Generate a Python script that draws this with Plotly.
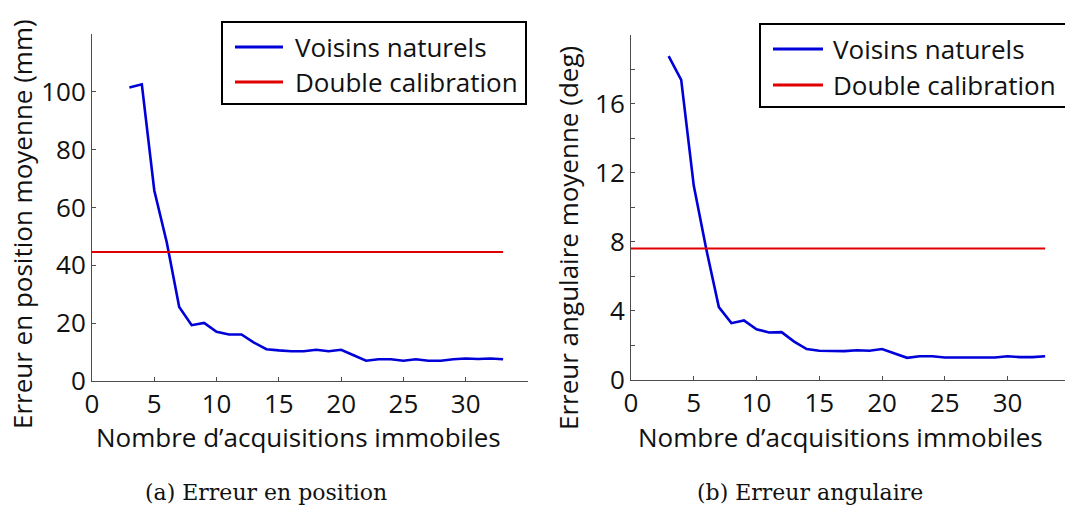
import plotly.graph_objects as go

W, H = 1065, 507

# Number of stationary acquisitions (x) and mean errors
n_acq = list(range(3, 34))
pos_err_nn = [101.5, 102.6, 65.9, 48.0, 25.6, 19.3, 20.1, 17.0, 16.1, 16.1,
              13.3, 11.0, 10.6, 10.3, 10.3, 10.8, 10.3, 10.8, 8.9, 7.0,
              7.5, 7.5, 7.0, 7.5, 7.0, 7.0, 7.5, 7.8, 7.6, 7.8, 7.5]
ang_err_nn = [18.77, 17.4, 11.26, 7.56, 4.2, 3.27, 3.43, 2.92, 2.73, 2.75,
              2.2, 1.77, 1.67, 1.67, 1.65, 1.7, 1.67, 1.77, 1.52, 1.26,
              1.35, 1.35, 1.28, 1.3, 1.28, 1.28, 1.28, 1.35, 1.3, 1.3, 1.35]
pos_err_double = 44.6
ang_err_double = 7.6
calib_x = [0, 33]

x_ticks = [0, 5, 10, 15, 20, 25, 30]
pos_ticks = [0, 20, 40, 60, 80, 100]
ang_ticks = [0, 4, 8, 12, 16]

legend_labels = ["Voisins naturels", "Double calibration"]
y_titles = ["Erreur en position moyenne (mm)", "Erreur angulaire moyenne (deg)"]
x_title = "Nombre d\u2019acquisitions immobiles"
captions = ["(a) Erreur en position", "(b) Erreur angulaire"]

BLUE = "#0000d8"
RED = "#e00000"
AXIS = "#4d4d4d"
FONT = "Open Sans"
SERIF = "DejaVu Serif"
FS = 26


def px(x):
    return x / W


def py(y):
    return 1 - y / H


fig = go.Figure()

fig.add_trace(go.Scatter(x=n_acq, y=pos_err_nn, mode="lines",
                         line=dict(color=BLUE, width=2.6), xaxis="x", yaxis="y",
                         showlegend=False))
fig.add_trace(go.Scatter(x=calib_x, y=[pos_err_double] * 2, mode="lines",
                         line=dict(color=RED, width=2), xaxis="x", yaxis="y",
                         showlegend=False))
fig.add_trace(go.Scatter(x=n_acq, y=ang_err_nn, mode="lines",
                         line=dict(color=BLUE, width=2.6), xaxis="x2", yaxis="y2",
                         showlegend=False))
fig.add_trace(go.Scatter(x=calib_x, y=[ang_err_double] * 2, mode="lines",
                         line=dict(color=RED, width=2), xaxis="x2", yaxis="y2",
                         showlegend=False))

axis_common = dict(showgrid=False, zeroline=False, showline=True, linecolor=AXIS,
                   linewidth=1, ticks="inside", ticklen=4, tickcolor=AXIS,
                   automargin=False,
                   tickfont=dict(family=FONT, size=FS, color="#111"))

fig.update_layout(
    template="none",
    width=W, height=H, autosize=False,
    margin=dict(l=0, r=0, t=0, b=0, pad=0),
    paper_bgcolor="white", plot_bgcolor="white",
    xaxis=dict(domain=[px(92), px(528)], range=[0, 35], tickvals=x_ticks,
               anchor="y", **axis_common),
    yaxis=dict(domain=[py(381), py(34)], range=[0, 120], tickvals=pos_ticks,
               anchor="x", **axis_common),
    xaxis2=dict(domain=[px(631), 1], range=[0, (W - 631) / 12.55],
                tickvals=x_ticks, anchor="y2", **axis_common),
    yaxis2=dict(domain=[py(379.5), py(35)], range=[0, 20], tickvals=ang_ticks,
                minor=dict(tickvals=[2, 6, 10, 14, 18], ticks="inside",
                           ticklen=4, tickcolor=AXIS),
                anchor="x2", **axis_common),
)

shapes = []
annotations = []

# Legend boxes drawn per panel: (box left, top, right, bottom, sample x0, x1, text x, row ys)
legend_specs = [
    (222, 22, 526, 104, 235, 283, 293, [47, 82]),
    (760, 24, 1075, 107, 773, 823, 831, [49, 85]),
]
for bx0, by0, bx1, by1, lx0, lx1, tx, rows in legend_specs:
    shapes.append(dict(type="rect", xref="paper", yref="paper",
                       x0=px(bx0), x1=px(bx1), y0=py(by1), y1=py(by0),
                       line=dict(color="black", width=2), fillcolor="white",
                       layer="above"))
    for color, label, ry in zip([BLUE, RED], legend_labels, rows):
        shapes.append(dict(type="line", xref="paper", yref="paper",
                           x0=px(lx0), x1=px(lx1), y0=py(ry), y1=py(ry),
                           line=dict(color=color, width=3), layer="above"))
        annotations.append(dict(text=label, xref="paper", yref="paper",
                                x=px(tx), y=py(ry), xanchor="left", yanchor="middle",
                                showarrow=False,
                                font=dict(family=FONT, size=FS, color="#111")))

# Axis titles
for text, cx, cy in [(y_titles[0], 22, 224), (y_titles[1], 568, 238)]:
    annotations.append(dict(text=text, xref="paper", yref="paper", x=px(cx), y=py(cy),
                            textangle=-90, showarrow=False, xanchor="center",
                            yanchor="middle",
                            font=dict(family=FONT, size=FS, color="#111")))
for cx in [298, 840]:
    annotations.append(dict(text=x_title, xref="paper", yref="paper", x=px(cx),
                            y=py(437), showarrow=False, xanchor="center",
                            yanchor="middle",
                            font=dict(family=FONT, size=FS, color="#111")))

# Sub-figure captions
for text, cx in zip(captions, [266, 810]):
    annotations.append(dict(text=text, xref="paper", yref="paper", x=px(cx),
                            y=py(492), showarrow=False, xanchor="center",
                            yanchor="middle",
                            font=dict(family=SERIF, size=22, color="#111")))

fig.update_layout(shapes=shapes, annotations=annotations)
fig.write_html("out.html")
